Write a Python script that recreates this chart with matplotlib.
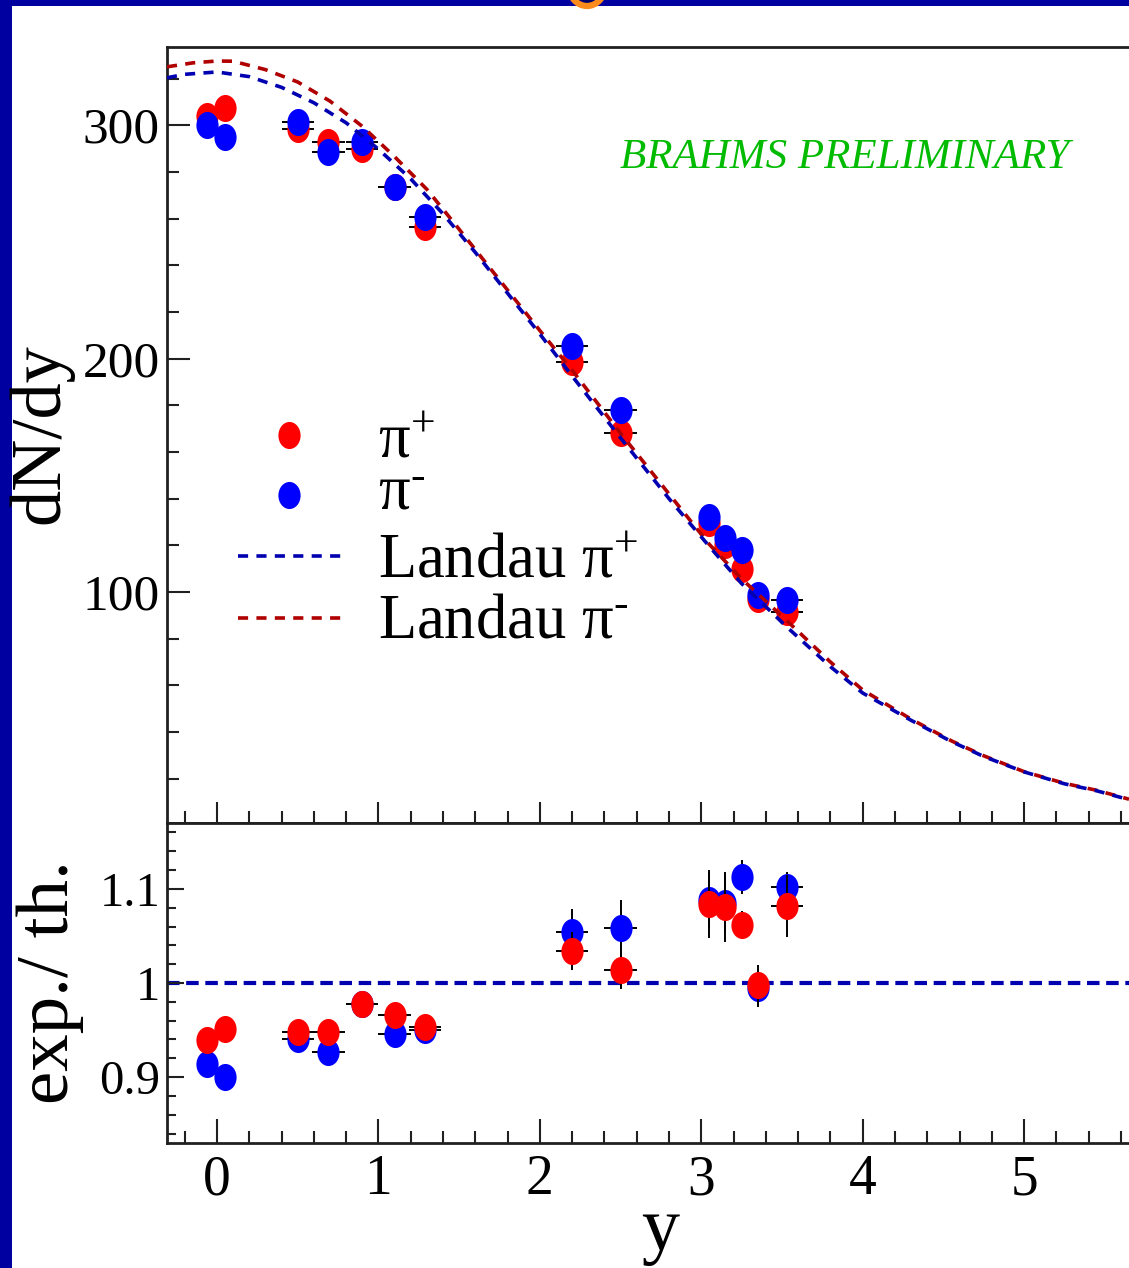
import numpy as np
import matplotlib
matplotlib.use("Agg")
import matplotlib.pyplot as plt
from matplotlib.ticker import MultipleLocator, FuncFormatter
from matplotlib.patches import Rectangle, Ellipse
from matplotlib.lines import Line2D
from matplotlib.path import Path
from matplotlib.transforms import Affine2D

plt.rcParams['font.family'] = ['Liberation Serif', 'DejaVu Serif']
plt.rcParams['mathtext.fontset'] = 'custom'
plt.rcParams['mathtext.rm'] = 'Liberation Serif'
plt.rcParams['mathtext.it'] = 'Liberation Serif:italic'
plt.rcParams['mathtext.bf'] = 'Liberation Serif:bold'

# ---------------- data ----------------
rap = [-0.06, 0.05, 0.5, 0.69, 0.9, 1.1, 1.29, 2.2, 2.5, 3.05, 3.15, 3.25, 3.35, 3.53]
rap_err = [0, 0, 0.1, 0.1, 0.1, 0.1, 0.1, 0.1, 0.1, 0, 0, 0, 0, 0.1]

dndy_pip = [304, 307.5, 298.5, 293, 290, 273.5, 256.5, 198.5, 168, 129.5, 120, 110, 97, 91.5]
dndy_pim = [300, 295, 301.5, 288.5, 293, 273.5, 260.5, 205.5, 178, 132, 123, 118, 98.5, 96.5]
dndy_pip_err = [2, 2, 2, 2, 2, 2, 2, 3, 3, 4, 4, 2, 2, 3.5]
dndy_pim_err = [2, 2, 2, 2, 2, 2, 2, 3, 3, 4, 4, 2, 2, 2]

ratio_pip = [0.939, 0.951, 0.948, 0.948, 0.978, 0.966, 0.953, 1.034, 1.014, 1.084, 1.081, 1.062, 0.998, 1.082]
ratio_pim = [0.914, 0.900, 0.940, 0.927, 0.978, 0.946, 0.950, 1.054, 1.058, 1.088, 1.085, 1.113, 0.995, 1.102]
ratio_pip_err = [0.008, 0.008, 0.006, 0.006, 0.006, 0.006, 0.006, 0.02, 0.02, 0.036, 0.037, 0.015, 0.021, 0.033]
ratio_pim_err = [0.012, 0.01, 0.006, 0.006, 0.006, 0.006, 0.006, 0.025, 0.03, 0.03, 0.03, 0.018, 0.02, 0.016]

# Landau curves
landau_pip_x = [-0.31, -0.2, 0.0, 0.2, 0.4, 0.6, 0.8, 1.0, 1.2, 1.4, 1.6, 1.8, 2.0, 2.2, 2.5,
                2.8, 3.05, 3.25, 3.35, 3.53, 3.8, 4.0, 4.3, 4.55, 4.75, 5.0, 5.25, 5.45, 5.65]
landau_pip_y = [320.3, 321.8, 322.8, 320.8, 316.2, 309.6, 301.0, 289.7, 277.0, 262.0, 245.5, 228.0,
                210.5, 192.5, 166.0, 140.0, 119.5, 103.6, 97.0, 85.0, 68.0, 56.7, 45.0, 35.9, 29.5,
                22.9, 17.8, 14.8, 11.0]
landau_pim_x = [-0.31, -0.15, 0.0, 0.1, 0.3, 0.5, 0.7, 0.9, 1.1, 1.3, 1.47, 1.7, 2.0, 2.2, 2.5,
                2.8, 3.05, 3.25, 3.53, 3.8, 4.0, 4.3, 4.55, 4.75, 5.0, 5.25, 5.45, 5.65]
landau_pim_y = [325.0, 326.7, 327.5, 327.4, 323.8, 318.5, 310.3, 299.5, 286.5, 272.5, 258.0, 238.0,
                212.0, 195.0, 168.0, 142.0, 120.4, 105.6, 87.7, 70.0, 58.0, 45.5, 36.2, 29.8,
                23.0, 18.0, 15.0, 11.2]

x_ticks = [0, 1, 2, 3, 4, 5]

# ---------------- figure ----------------
W, H = 1129, 1268
fig = plt.figure(figsize=(W / 100, H / 100), dpi=100, facecolor='#0000a0')


def fx(px):
    return px / W


def fy(py):
    return 1 - py / H


fig.add_artist(Rectangle((fx(12), 0), 1, (H - 6) / H, transform=fig.transFigure,
                         facecolor='white', edgecolor='none', zorder=-5))
fig.add_artist(Ellipse((fx(587), fy(-14)), 36 / W, 40 / H, transform=fig.transFigure,
                       facecolor='#00006a', edgecolor='#ff8c1a', linewidth=4.5, zorder=-4))

RED = '#ff0000'
BLUE = '#0000ff'
DRED = '#b00000'
DBLUE = '#0000b0'

ell = Path.unit_circle().transformed(Affine2D().scale(0.82, 1.0))
MS = 19.5
CLW = 2.6
CDASH = (2.8, 2.3)

ax1 = fig.add_axes([fx(167), fy(823), 962 / W, 776 / H])
ax2 = fig.add_axes([fx(167), fy(1143), 962 / W, 320 / H])

for ax in (ax1, ax2):
    ax.set_xlim(-0.31, 5.65)
    ax.set_facecolor('white')
    ax.spines['right'].set_visible(False)
    for s in ('left', 'top', 'bottom'):
        ax.spines[s].set_linewidth(2.0)
        ax.spines[s].set_color('#202020')
    ax.xaxis.set_major_locator(MultipleLocator(1))
    ax.xaxis.set_minor_locator(MultipleLocator(0.2))

# --- top panel ---
ax1.set_ylim(1, 333.5)
ax1.yaxis.set_major_locator(MultipleLocator(100))
ax1.yaxis.set_minor_locator(MultipleLocator(20))
ax1.tick_params(axis='x', which='both', direction='in', bottom=True, top=False,
                labelbottom=False, width=1.5, color='#202020')
ax1.tick_params(axis='x', which='major', length=15)
ax1.tick_params(axis='x', which='minor', length=8.6)
ax1.tick_params(axis='y', which='both', direction='in', left=True, right=False,
                width=1.5, color='#202020', labelsize=37, pad=5)
ax1.tick_params(axis='y', which='major', length=16.6)
ax1.tick_params(axis='y', which='minor', length=8.6)

ax1.errorbar(rap, dndy_pip, yerr=dndy_pip_err, xerr=rap_err, linestyle='none', marker=ell,
             ms=MS, mfc=RED, mec=RED, mew=0, ecolor='black', elinewidth=1.4, zorder=3)
ax1.errorbar(rap, dndy_pim, yerr=dndy_pim_err, xerr=rap_err, linestyle='none', marker=ell,
             ms=MS, mfc=BLUE, mec=BLUE, mew=0, ecolor='black', elinewidth=1.4, zorder=3.5)
ax1.plot(landau_pim_x, landau_pim_y, color=DRED, lw=CLW, dashes=CDASH, zorder=5)
ax1.plot(landau_pip_x, landau_pip_y, color=DBLUE, lw=CLW, dashes=CDASH, zorder=5.5)

ax1.text(fx(845), fy(168), 'BRAHMS PRELIMINARY', transform=fig.transFigure,
         ha='center', va='baseline', fontsize=31, style='italic', color='#00bb00')

# --- bottom panel ---
ax2.set_ylim(0.83, 1.17)
ax2.yaxis.set_major_locator(MultipleLocator(0.1))
ax2.yaxis.set_minor_locator(MultipleLocator(0.02))
ax2.yaxis.set_major_formatter(FuncFormatter(lambda v, p: '%g' % round(v, 3)))
ax2.xaxis.set_major_formatter(FuncFormatter(lambda v, p: '%g' % round(v, 3)))
ax2.set_xticks(x_ticks)
ax2.tick_params(axis='x', which='both', direction='in', bottom=True, top=False,
                width=1.5, color='#202020', labelsize=40, pad=8)
ax2.tick_params(axis='x', which='major', length=17)
ax2.tick_params(axis='x', which='minor', length=8.6)
ax2.tick_params(axis='y', which='both', direction='in', left=True, right=False,
                width=1.5, color='#202020', labelsize=35, pad=5)
ax2.tick_params(axis='y', which='major', length=12.2)
ax2.tick_params(axis='y', which='minor', length=6.5)

ax2.axhline(1.0, color=DBLUE, lw=3.0, dashes=(3.0, 1.6), zorder=1)
ax2.errorbar(rap, ratio_pim, yerr=ratio_pim_err, xerr=rap_err, linestyle='none', marker=ell,
             ms=MS, mfc=BLUE, mec=BLUE, mew=0, ecolor='black', elinewidth=1.4, zorder=3)
ax2.errorbar(rap, ratio_pip, yerr=ratio_pip_err, xerr=rap_err, linestyle='none', marker=ell,
             ms=MS, mfc=RED, mec=RED, mew=0, ecolor='black', elinewidth=1.4, zorder=3.5)

# --- axis titles ---
fig.text(fx(41), fy(434), 'dN/dy', rotation=90, ha='center', va='center', fontsize=52)
fig.text(fx(50), fy(982), 'exp./ th.', rotation=90, ha='center', va='center', fontsize=54)
fig.text(fx(660), fy(1250), 'y', ha='center', va='baseline', fontsize=55)

# --- legend ---
fig.add_artist(Line2D([fx(289)], [fy(435)], transform=fig.transFigure, linestyle='none',
                      marker=ell, ms=MS, mfc=RED, mec=RED, mew=0))
fig.add_artist(Line2D([fx(289)], [fy(495)], transform=fig.transFigure, linestyle='none',
                      marker=ell, ms=MS, mfc=BLUE, mec=BLUE, mew=0))
fig.add_artist(Line2D([fx(238), fx(342)], [fy(556), fy(556)], transform=fig.transFigure,
                      color=DBLUE, lw=CLW, dashes=CDASH))
fig.add_artist(Line2D([fx(238), fx(342)], [fy(618), fy(618)], transform=fig.transFigure,
                      color=DRED, lw=CLW, dashes=CDASH))
LFS = 45
fig.text(fx(378), fy(457), r'$\mathrm{\pi}^{+}$', ha='left', va='baseline', fontsize=LFS)
fig.text(fx(378), fy(510), r'$\mathrm{\pi}^{\text{-}}$', ha='left', va='baseline', fontsize=LFS)
fig.text(fx(378), fy(577), r'Landau $\mathrm{\pi}^{+}$', ha='left', va='baseline', fontsize=LFS)
fig.text(fx(378), fy(637), r'Landau $\mathrm{\pi}^{\text{-}}$', ha='left', va='baseline', fontsize=LFS)

fig.savefig('out.png', dpi=100, facecolor=fig.get_facecolor())
